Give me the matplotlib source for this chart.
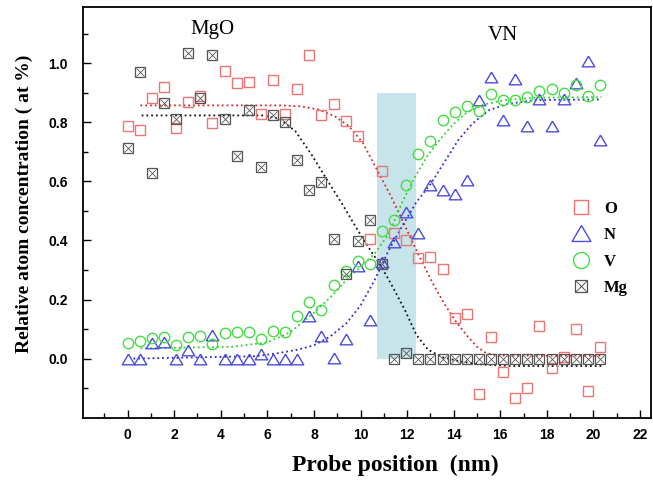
import numpy as np
import matplotlib.pyplot as plt
from matplotlib.lines import Line2D

# probe positions (nm), shared by all four elements
pos = [0.0, 0.52, 1.04, 1.56, 2.08, 2.60, 3.12, 3.64, 4.16, 4.68,
       5.20, 5.72, 6.24, 6.76, 7.28, 7.80, 8.32, 8.84, 9.36, 9.88,
       10.40, 10.92, 11.44, 11.96, 12.48, 13.00, 13.52, 14.04, 14.56, 15.08,
       15.60, 16.12, 16.64, 17.16, 17.68, 18.20, 18.72, 19.24, 19.76, 20.28]

conc_O = [0.786, 0.774, 0.882, 0.918, 0.781, 0.870, 0.888, 0.799, 0.973, 0.933,
          0.937, 0.828, 0.942, 0.829, 0.911, 1.026, 0.823, 0.863, 0.803, 0.755,
          0.405, 0.636, 0.424, 0.402, 0.339, 0.345, 0.304, 0.137, 0.152, -0.121,
          0.072, -0.045, -0.133, -0.098, 0.111, -0.033, 0.006, 0.101, -0.109, 0.038]

conc_N = [0.0, 0.0, 0.053, 0.055, 0.0, 0.028, 0.0, 0.081, 0.0, 0.0,
          0.0, 0.016, 0.0, 0.0, 0.0, 0.145, 0.078, 0.002, 0.067, 0.314,
          0.132, 0.327, 0.396, 0.497, 0.424, 0.587, 0.571, 0.557, 0.605, 0.874,
          0.953, 0.807, 0.945, 0.786, 0.877, 0.786, 0.877, 0.933, 1.007, 0.739]

conc_V = [0.053, 0.060, 0.071, 0.073, 0.045, 0.073, 0.077, 0.048, 0.085, 0.089,
          0.090, 0.066, 0.092, 0.089, 0.144, 0.192, 0.163, 0.250, 0.298, 0.331,
          0.320, 0.433, 0.469, 0.589, 0.692, 0.736, 0.809, 0.835, 0.856, 0.837,
          0.897, 0.874, 0.874, 0.885, 0.905, 0.914, 0.899, 0.927, 0.888, 0.926]

conc_Mg = [0.712, 0.969, 0.628, 0.864, 0.811, 1.036, 0.882, 1.027, 0.812, 0.685,
           0.841, 0.650, 0.825, 0.802, 0.672, 0.572, 0.598, 0.404, 0.286, 0.398,
           0.468, 0.320, 0.0, 0.019, 0.0, 0.0, 0.0, 0.0, 0.0, 0.0,
           0.0, 0.0, 0.0, 0.0, 0.0, 0.0, 0.0, 0.0, 0.0, 0.0]

# fitted profiles, traced as (x, y) vertices
fit_O_x = [0.55, 6.5, 7.4, 8.2, 8.9, 9.5, 10.1, 10.7, 11.3, 11.9, 12.5, 13.1, 13.6, 14.1, 14.6, 15.0, 15.4, 16.0, 20.4]
fit_O_y = [0.857, 0.857, 0.854, 0.843, 0.820, 0.787, 0.730, 0.640, 0.550, 0.450, 0.350, 0.255, 0.185, 0.125, 0.075, 0.040, 0.018, 0.010, 0.010]

fit_Mg_x = [0.6, 5.8, 6.5, 7.2, 7.9, 8.6, 9.2, 9.8, 10.4, 10.9, 11.4, 11.9, 12.4, 12.9, 13.5, 14.3, 15.2, 16.5, 20.35]
fit_Mg_y = [0.823, 0.823, 0.812, 0.770, 0.690, 0.600, 0.525, 0.445, 0.370, 0.310, 0.240, 0.165, 0.080, 0.030, 0.005, -0.010, -0.020, -0.025, -0.025]

fit_V_x = [0.55, 4.5, 6.0, 7.0, 8.0, 8.8, 9.4, 10.0, 10.6, 11.2, 11.8, 12.3, 12.9, 13.5, 14.0, 14.6, 15.3, 16.2, 17.5, 20.35]
fit_V_y = [0.035, 0.040, 0.055, 0.090, 0.155, 0.215, 0.267, 0.310, 0.355, 0.420, 0.530, 0.610, 0.690, 0.750, 0.795, 0.835, 0.860, 0.875, 0.883, 0.885]

fit_N_x = [0.25, 5.5, 6.5, 7.3, 8.0, 8.7, 9.4, 10.0, 10.6, 11.2, 11.8, 12.4, 13.0, 13.6, 14.2, 14.8, 15.5, 16.3, 17.5, 20.3]
fit_N_y = [0.0, 0.008, 0.019, 0.030, 0.045, 0.075, 0.120, 0.180, 0.265, 0.365, 0.450, 0.530, 0.590, 0.665, 0.740, 0.795, 0.840, 0.862, 0.875, 0.877]

# interface region (nm)
band_x = [10.7, 12.4]
band_top = 0.9

plt.rcParams['font.family'] = ['Liberation Sans', 'DejaVu Sans']

fig = plt.figure(figsize=(6.53, 4.83), dpi=100)
ax = fig.add_axes([0.1266, 0.1352, 0.8696, 0.8503])

ax.fill_between(band_x, 0, band_top, color='#c6e4e9', lw=0, zorder=1)

ax.plot(fit_O_x, fit_O_y, ':', color='#e02424', lw=1.3, zorder=2)
ax.plot(fit_Mg_x, fit_Mg_y, ':', color='#111111', lw=1.3, zorder=2)
ax.plot(fit_V_x, fit_V_y, ':', color='#2ed02e', lw=1.3, zorder=2)
ax.plot(fit_N_x, fit_N_y, ':', color='#2a2ad8', lw=1.3, zorder=2)

# slightly flattened triangle
tri = [(0, 0.85), (-1, -0.85), (1, -0.85), (0, 0.85)]

c_O, c_N, c_V, c_Mg = '#ee7474', '#4c4cdc', '#44dd44', '#555555'
ax.plot(pos, conc_O, 's', ms=7, mfc='none', mec=c_O, mew=1.0, zorder=3)
ax.plot(pos, conc_N, marker=tri, ls='none', ms=9, mfc='none', mec=c_N, mew=1.0, zorder=3)
ax.plot(pos, conc_V, 'o', ms=7.5, mfc='none', mec=c_V, mew=1.0, zorder=3)
ax.plot(pos, conc_Mg, 's', ms=6.5, mfc='none', mec=c_Mg, mew=0.9, zorder=3)
ax.plot(pos, conc_Mg, 'x', ms=6.0, mec=c_Mg, mew=0.6, zorder=3)

ax.text(3.65, 1.114, 'MgO', family='Liberation Serif', fontsize=15, ha='center', va='center')
ax.text(16.13, 1.093, 'VN', family='Liberation Serif', fontsize=15, ha='center', va='center')

handles = [
    Line2D([], [], ls='none', marker='s', ms=10.5, mfc='none', mec=c_O, mew=1.0),
    Line2D([], [], ls='none', marker=tri, ms=13.5, mfc='none', mec=c_N, mew=1.0),
    Line2D([], [], ls='none', marker='o', ms=11.5, mfc='none', mec=c_V, mew=1.0),
    (Line2D([], [], ls='none', marker='s', ms=9, mfc='none', mec=c_Mg, mew=0.9),
     Line2D([], [], ls='none', marker='x', ms=8.5, mec=c_Mg, mew=0.7)),
]
ax.legend(handles, ['O', 'N', 'V', 'Mg'], loc='upper left', bbox_to_anchor=(0.846, 0.548),
          frameon=False, prop={'family': 'Liberation Serif', 'weight': 'bold', 'size': 12},
          handlelength=1.2, handletextpad=0.75, labelspacing=0.62, borderpad=0)

ax.set_xlim(-1.93, 22.45)
ax.set_ylim(-0.2, 1.19)
ax.set_xticks(np.arange(0, 23, 2))
ax.set_xticks(np.arange(-1, 23, 2), minor=True)
ax.set_yticks(np.arange(0, 1.01, 0.2))
ax.set_yticks(np.arange(-0.1, 1.15, 0.2), minor=True)
ax.set_yticklabels(['0.0', '0.2', '0.4', '0.6', '0.8', '1.0'])
ax.tick_params(which='both', direction='in', top=False, right=False)
ax.tick_params(which='major', length=6, width=1)
ax.tick_params(which='minor', length=3.5, width=1)
ax.tick_params(axis='x', pad=7.5)
ax.tick_params(axis='y', pad=10.5)
for lab in ax.get_xticklabels() + ax.get_yticklabels():
    lab.set_fontweight('bold')
    lab.set_fontsize(10)
for sp in ax.spines.values():
    sp.set_linewidth(1.3)

ax.set_xlabel('Probe position  (nm)', family='Liberation Serif', fontweight='bold', fontsize=17)
ax.set_ylabel('Relative atom concentration ( at %)', family='Liberation Serif', fontweight='bold', fontsize=14)
ax.xaxis.set_label_coords(0.55, -0.09)
ax.yaxis.set_label_coords(-0.088, 0.52)

fig.savefig('out.png', dpi=100)
